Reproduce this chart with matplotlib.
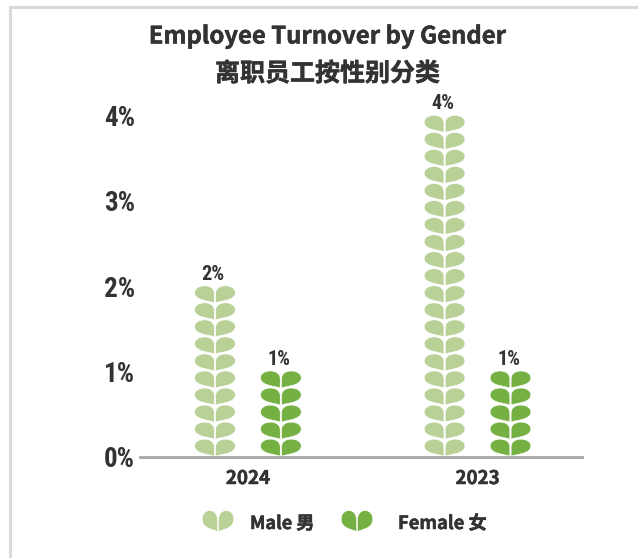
import matplotlib
matplotlib.use("Agg")
import matplotlib.pyplot as plt
import matplotlib.patheffects as pe
import numpy as np
from matplotlib.patches import PathPatch, Rectangle
from matplotlib.path import Path
from matplotlib.transforms import Affine2D

years = ["2024", "2023"]
male = [2, 4]
female = [1, 1]
y_ticks = [0, 1, 2, 3, 4]
tick_labels = ["0%", "1%", "2%", "3%", "4%"]

LIGHT = "#b9d197"
DARK = "#75b043"
INK = "#333333"
CJK = ["Noto Sans CJK SC", "DejaVu Sans"]
NARROW = ["Roboto Condensed", "Liberation Sans"]
THICK = [pe.withStroke(linewidth=0.35, foreground=INK)]

W, H = 638, 558
fig = plt.figure(figsize=(W / 100, H / 100), dpi=100, facecolor="white")

# axes placed in pixels, same box as the reference
left, right, base, per_pct = 140, 582, 456.5, 85.2
y_top = 4.2
ax = fig.add_axes([left / W, 1 - base / H, (right - left) / W, y_top * per_pct / H])
ax.set_xlim(-0.47, 1.455)
ax.set_ylim(0, y_top)
ax.patch.set_alpha(0)

# one side of the heart shape, unit box: x 0..1, y 0..1 (tip at y=0)
LEAF = [
    (0.03, 0.0),
    (0.14, 0.14), (1.02, 0.10), (1.02, 0.62),
    (1.02, 0.86), (0.80, 1.02), (0.52, 1.02),
    (0.24, 1.02), (0.03, 0.86), (0.03, 0.55),
    (0.03, 0.0),
]
CODES = [Path.MOVETO] + [Path.CURVE4] * 9 + [Path.CLOSEPOLY]


def heart_paths(cx, bottom, half_w, height):
    leaf = np.array(LEAF)
    paths = []
    for side in (1, -1):
        xs = cx + side * leaf[:, 0] * half_w
        ys = bottom + leaf[:, 1] * height
        paths.append(Path(np.column_stack([xs, ys]), CODES))
    return paths


def draw_column(x, value, color):
    half_w = 20 / 229.5
    rows = int(round(value / 0.2))
    # top rows go on last so the tips sit in the notch below
    for i in range(rows):
        for p in heart_paths(x, i * 0.2, half_w, 0.2):
            ax.add_patch(PathPatch(p, facecolor=color, edgecolor="white", lw=0.5, zorder=2 + i))
    ax.text(x - 0.008, value + 0.03, f"{value}%", ha="center", va="bottom", fontsize=14.5,
            fontweight="bold", family=NARROW, color=INK)


offset = 0.1435
for i, year in enumerate(years):
    draw_column(i - offset, male[i], LIGHT)
    draw_column(i + offset, female[i], DARK)

ax.set_xticks(range(len(years)))
ax.set_xticklabels(years, fontsize=13.5, fontweight="bold", family=CJK, color=INK, path_effects=THICK)
ax.set_yticks(y_ticks)
ax.set_yticklabels(tick_labels, fontsize=19.5, fontweight="bold", family=NARROW, color=INK)
ax.tick_params(length=0)
ax.tick_params(axis="x", pad=9)
ax.tick_params(axis="y", pad=3.5)
for name in ["top", "left", "right"]:
    ax.spines[name].set_visible(False)
ax.spines["bottom"].set_color("#a6a6a6")
ax.spines["bottom"].set_linewidth(2)
ax.spines["bottom"].set_zorder(30)

# panel border, only left and top fall inside the image
fig.add_artist(Rectangle((9.5 / W, -0.1), 1.2, 1.1 - 7.5 / H, transform=fig.transFigure,
                         facecolor="none", edgecolor="#d7dadc", lw=2.2))

fig.text(327.5 / W, 1 - 36.5 / H, "Employee Turnover by Gender", ha="center", va="center",
         fontsize=17.2, fontweight="bold", family=CJK, color=INK, path_effects=THICK)
fig.text(327.5 / W, 1 - 74 / H, "离职员工按性别分类", ha="center", va="center",
         fontsize=18, fontweight="bold", family=CJK, color=INK, path_effects=THICK)

# legend
legend_tf = Affine2D().scale(1 / W, -1 / H).translate(0, 1) + fig.transFigure
for cx, color in [(218, LIGHT), (357, DARK)]:
    for p in heart_paths(cx, 532, 15.5, -21):
        fig.add_artist(PathPatch(p, transform=legend_tf, facecolor=color, edgecolor="white", lw=0.4))
fig.text(250 / W, 1 - 523.5 / H, "Male 男", ha="left", va="center", fontsize=13,
         fontweight="bold", family=CJK, color=INK, path_effects=THICK)
fig.text(398 / W, 1 - 523.5 / H, "Female 女", ha="left", va="center", fontsize=13.2,
         fontweight="bold", family=CJK, color=INK, path_effects=THICK)

fig.savefig("out.png", dpi=100, facecolor="white")
